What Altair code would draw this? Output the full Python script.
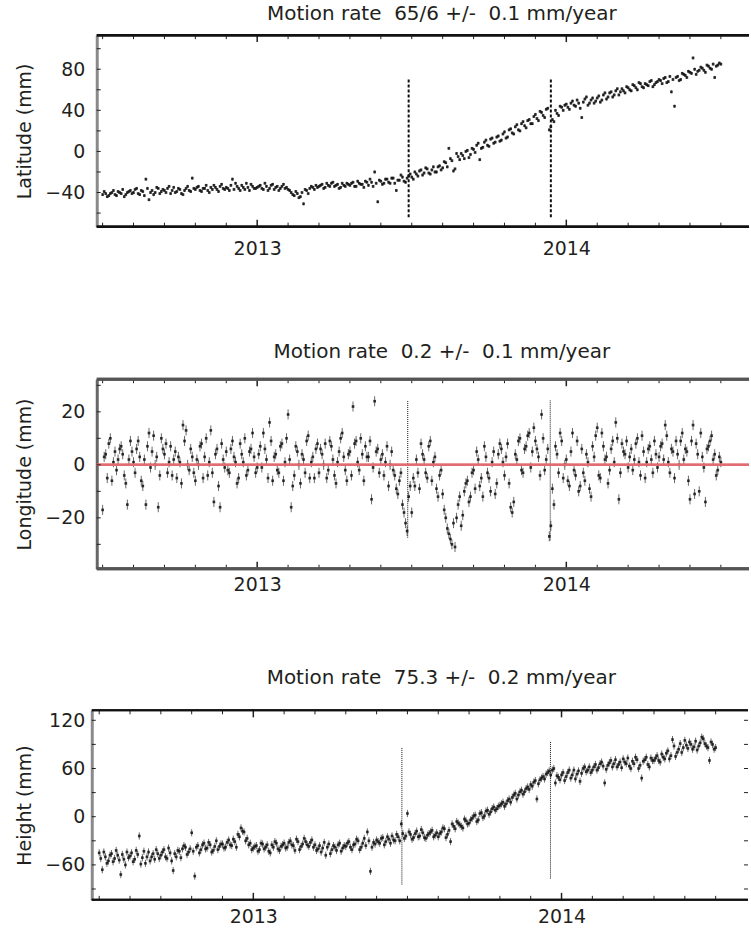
import altair as alt
import numpy as np
import pandas as pd

# GNSS daily solutions: the main samples every 0.01 year from 2012.50,
# and the in-between samples at the half steps (2012.505, 2012.515, ...)
T0, DT = 2012.50, 0.01

latitude = [
    -42, -41, -43, -40, -42, -39, -41, -44, -40, -38,
    -40, -36, -42, -39, -27, -47, -38, -40, -36, -39,
    -38, -36, -41, -35, -39, -37, -42, -36, -38, -26,
    -37, -34, -39, -36, -38, -35, -33, -37, -34, -36,
    -35, -38, -27, -31, -36, -33, -37, -35, -32, -36,
    -35, -33, -37, -34, -36, -32, -35, -38, -34, -36,
    -37, -40, -43, -41, -44, -51, -38, -36, -35, -33,
    -34, -32, -35, -33, -31, -34, -32, -35, -33, -31,
    -33, -30, -34, -31, -32, -29, -33, -30, -20, -49,
    -29, -31, -27, -31, -26, -38, -28, -25, -30, -24,
    -25, -20, -24, -18, -21, -17, -22, -15, -20, -14,
    -16, -11, 3, -9, -17, -5, -2, -7, 1, -3,
    2, 6, -8, 4, 11, 5, 13, 9, 15, 11,
    19, 14, 22, 17, 26, 20, 29, 23, 31, 27,
    36, 30, 38, 33, 42, 24, 29, 37, 44, 40,
    46, 41, 49, 44, 47, 33, 51, 45, 50, 47,
    52, 48, 55, 51, 57, 53, 59, 55, 61, 57,
    62, 59, 64, 60, 66, 62, 65, 68, 63, 67,
    70, 66, 72, 68, 58, 44, 73, 70, 75, 72,
    77, 91, 75, 79, 81, 77, 83, 80, 72, 84,
    85,
]
latitude_mid = [
    -39, -44, -41, -38, -43, -40, -37, -42, -39, -41,
    -37, -41, -38, -43, -36, -40, -42, -35, -41, -37,
    -40, -34, -38, -40, -36, -41, -38, -34, -39, -36,
    -35, -38, -36, -33, -40, -37, -35, -39, -32, -37,
    -36, -33, -37, -34, -38, -35, -31, -38, -34, -36,
    -34, -36, -31, -38, -33, -37, -34, -36, -32, -35,
    -38, -42, -39, -45, -40, -37, -41, -34, -37, -35,
    -33, -36, -31, -34, -30, -33, -36, -31, -34, -32,
    -31, -34, -29, -32, -35, -30, -27, -34, -31, -28,
    -32, -27, -30, -26, -31, -28, -23, -29, -26, -22,
    -27, -22, -19, -23, -16, -21, -18, -20, -15, -18,
    -10, -15, -7, -19, -2, -8, -4, 0, -6, 3,
    -1, 8, 3, 9, 6, 12, 8, 14, 10, 17,
    13, 21, 18, 24, 21, 27, 25, 30, 27, 34,
    32, 39, 35, 41, 21, 31, 40, 35, 43, 45,
    43, 47, 45, 50, 42, 48, 53, 47, 52, 49,
    54, 50, 57, 53, 58, 55, 61, 58, 59, 63,
    60, 65, 62, 67, 63, 66, 64, 69, 65, 68,
    69, 71, 67, 73, 70, 72, 69, 76, 74, 78,
    76, 80, 78, 82, 79, 84, 81, 85, 83, 86,
]

longitude = [
    -17, 4, 8, -6, 5, 2, 7, -4, -15, 9,
    1, 6, 3, -8, -15, 12, 5, 0, -16, 10,
    4, -3, 7, 2, -5, 1, 15, 13, -2, 3,
    -6, 0, 8, 3, -4, 13, -14, 6, -16, 2,
    5, -3, 9, 1, -5, 4, 10, -2, 6, 3,
    -1, 7, 12, 2, 16, -6, 4, -3, 8, 1,
    19, -16, -4, 5, -7, 2, 9, -5, 3, 6,
    -3, 4, 8, -2, 7, -4, 1, 10, 3, -6,
    5, 22, 9, -2, 4, 7, 3, -13, 24, 6,
    2, -4, 7, 0, -2, -9, -6, -15, -22, -12,
    -18, -8, -3, 8, 2, -5, 9, 1, -9, -4,
    -11, -20, -26, -30, -31, -15, -23, -10, -6, -12,
    -2, 5, -8, -12, 3, -5, 1, -11, 4, 6,
    -4, 8, -16, -14, 2, 10, -3, 7, 12, 5,
    9, 3, 19, -2, 6, -23, -15, 4, 12, -5,
    2, -8, 12, -4, -10, 6, -6, 1, -12, 3,
    14, -5, 7, 3, -2, 9, 16, -13, 8, 4,
    -1, 6, 2, 10, -4, 5, 1, 7, -3, 4,
    3, 8, 15, 1, 6, -5, 4, 9, 2, 5,
    -13, 15, 8, -10, 3, -14, 7, 11, 4, -2,
    1,
]
longitude_mid = [
    3, -5, 10, 1, -2, 6, 4, -7, 2, 5,
    -3, 9, -6, 2, 7, -1, 11, 3, -4, 6,
    8, 1, -4, 5, 3, -7, 9, 0, 6, -3,
    2, 7, -5, 10, 1, -3, 4, -8, 8, -1,
    -2, 6, 3, -7, 8, 1, -4, 5, 12, -3,
    4, -1, 6, -5, 9, 3, -2, 7, -6, 10,
    2, -8, 7, 0, 4, -3, 11, 1, -5, 8,
    6, 0, -5, 9, 2, -7, 5, 12, -2, 4,
    -4, 8, 1, 10, -6, 3, 9, -1, 5, -3,
    4, 1, -8, 5, -4, -11, -3, -18, -25, -8,
    -5, 2, -9, 4, -3, 7, -6, 3, -12, -2,
    -17, -24, -28, -22, -20, -12, -19, -7, -14, -3,
    -9, 2, -5, 7, -3, -10, 5, -7, 8, 1,
    3, -7, -18, 4, 9, -2, 6, 11, -1, 14,
    6, -4, 10, 2, -27, -9, 7, -3, 9, 0,
    -6, 5, -2, 9, -8, -3, 4, -9, 7, 11,
    -4, 12, 2, -7, 6, 1, 10, -3, 5, 9,
    3, -2, 8, 1, 11, -5, 6, 2, 9, -1,
    7, 2, 11, -3, 5, 9, 0, 12, 6, -6,
    9, -11, 4, 12, -1, 6, 9, 2, -4, 3,
]

height = [
    -45, -66, -50, -55, -46, -52, -48, -72, -53, -44,
    -49, -56, -42, -24, -51, -58, -44, -50, -53, -46,
    -48, -41, -52, -45, -67, -50, -43, -40, -38, -44,
    -20, -74, -36, -41, -33, -39, -35, -42, -30, -37,
    -34, -38, -29, -36, -31, -22, -14, -19, -27, -33,
    -39, -36, -41, -34, -38, -43, -35, -31, -40, -37,
    -33, -38, -30, -36, -28, -41, -34, -31, -37, -29,
    -35, -40, -44, -32, -38, -46, -36, -42, -33, -39,
    -37, -31, -41, -34, -30, -38, -27, -19, -68, -32,
    -29, -33, -26, -31, -28, -24, -30, -25, -9, -27,
    4, -22, -26, -18, -24, -20, -27, -21, -17, -23,
    -25, -19, -15, -22, -31, -12, -6, -10, -14, -5,
    -8, -2, 2, -4, 5, 1, 8, 6, 12, 10,
    14, 18, 16, 22, 24, 29, 27, 33, 31, 37,
    40, 43, 22, 46, 50, 53, 57, 58, 42, 49,
    52, 45, 55, 48, 58, 53, 44, 60, 56, 62,
    58, 65, 61, 68, 42, 64, 70, 66, 62, 68,
    72, 66, 63, 69, 74, 60, 48, 71, 65, 73,
    70, 76, 68, 74, 79, 72, 96, 75, 84, 80,
    95, 85, 90, 87, 83, 92, 97, 88, 70, 90,
    86,
]
height_mid = [
    -52, -44, -58, -48, -56, -42, -54, -47, -60, -51,
    -45, -53, -47, -59, -43, -50, -55, -46, -41, -52,
    -44, -50, -39, -55, -46, -42, -51, -36, -47, -40,
    -43, -38, -45, -35, -40, -32, -44, -37, -41, -34,
    -39, -32, -35, -28, -38, -25, -18, -30, -35, -41,
    -37, -43, -33, -40, -35, -45, -38, -33, -42, -35,
    -39, -32, -35, -42, -31, -37, -27, -35, -32, -38,
    -42, -36, -39, -48, -34, -41, -38, -35, -43, -36,
    -33, -38, -35, -28, -41, -33, -36, -30, -38, -34,
    -31, -27, -35, -25, -33, -29, -22, -30, -21, -24,
    -19, -28, -21, -25, -16, -26, -23, -19, -25, -20,
    -21, -14, -26, -17, -9, -15, -8, -12, -3, -9,
    -4, 1, -6, 4, -1, 7, 3, 10, 8, 13,
    16, 13, 20, 18, 27, 22, 31, 28, 35, 34,
    38, 45, 41, 48, 47, 55, 52, 60, 51, 46,
    55, 50, 58, 52, 47, 57, 54, 62, 58, 55,
    62, 58, 66, 63, 59, 67, 62, 71, 65, 61,
    68, 73, 60, 66, 71, 64, 69, 74, 62, 70,
    73, 70, 78, 72, 82, 76, 88, 80, 91, 86,
    89, 93, 84, 94, 88, 99, 91, 86, 93, 84,
]

# formal 1-sigma uncertainty of each component (mm)
sigma = {"lat": 1.5, "lon": 1.9, "hgt": 4.5}

# epochs of the two events marked on every panel, with the extent of each marker (mm)
event_epochs = {"lat": [2013.49, 2013.95], "lon": [2013.487, 2013.948], "hgt": [2013.482, 2013.964]}
event_low = {"lat": [-64, -64], "lon": [-27.5, -28.5], "hgt": [-84.5, -77]}
event_high = {"lat": [70, 70], "lon": [24.4, 24.4], "hgt": [85.7, 94.4]}

titles = {
    "lat": "Motion rate\u00a0 65/6 +/-\u00a0 0.1 mm/year",
    "lon": "Motion rate\u00a0 0.2 +/-\u00a0 0.1 mm/year",
    "hgt": "Motion rate\u00a0 75.3 +/-\u00a0 0.2 mm/year",
}
ytitles = {"lat": "Latitude (mm)", "lon": "Longitude (mm)", "hgt": "Height (mm)"}
ylabels = {"lat": [-40, 0, 40, 80], "lon": [-20, 0, 20], "hgt": [-60, 0, 60, 120]}
ysteps = {"lat": [-60, -40, -20, 0, 20, 40, 60, 80, 100],
          "lon": [-30, -20, -10, 0, 10, 20, 30],
          "hgt": [-90, -60, -30, 0, 30, 60, 90, 120]}
year_labels = [2013, 2014]
month_ticks = [round(2012.5 + 0.1 * k, 1) for k in range(21)]

FONT = "DejaVu Sans"
INK = "#231f20"

epochs = np.round(T0 + DT * np.arange(len(latitude)), 3)
epochs_mid = np.round(T0 + DT / 2 + DT * np.arange(len(latitude_mid)), 3)


def panel(key, values, values_mid, ydom, xdom, width, hgt_px, title_offset, xlab_pad, ylab_pad,
          yextent, frame_color, frame_width, left_color, dash, dash_width,
          zero_line=False, right_ticks=False, left_shift=0):
    df = pd.DataFrame({"t": np.concatenate([epochs, epochs_mid]),
                       "v": list(values) + list(values_mid)})
    df["lo"] = df["v"] - sigma[key]
    df["hi"] = df["v"] + sigma[key]

    xscale = alt.Scale(domain=xdom, nice=False, zero=False)
    yscale = alt.Scale(domain=ydom, nice=False, zero=False)
    xaxis = alt.Axis(values=year_labels, format="d", title=None, ticks=False, tickSize=0,
                     grid=False, domain=False,
                     labelFont=FONT, labelFontSize=19, labelColor=INK, labelPadding=xlab_pad)
    yaxis = alt.Axis(values=ylabels[key], title=ytitles[key], titleFont=FONT, titleFontSize=19,
                     titleFontWeight="normal", titleColor=INK, titlePadding=14,
                     labelFont=FONT, labelFontSize=19, labelColor=INK, labelPadding=ylab_pad,
                     ticks=False, tickSize=0, grid=False, domainColor=left_color, domainWidth=3,
                     minExtent=yextent, maxExtent=yextent, offset=left_shift)

    def X(f):
        return alt.X(f"{f}:Q", scale=xscale, axis=xaxis)

    def Y(f):
        return alt.Y(f"{f}:Q", scale=yscale, axis=yaxis)

    base = alt.Chart(df)
    bars = base.mark_rule(color="#444", strokeWidth=1, opacity=0.8).encode(x=X("t"), y=Y("lo"), y2="hi:Q")
    dots = base.mark_square(size=7, color="#111", opacity=0.85).encode(x=X("t"), y=Y("v"))

    ev = pd.DataFrame({"t": event_epochs[key], "lo": event_low[key], "hi": event_high[key]})
    events = alt.Chart(ev).mark_rule(color="#111", strokeWidth=dash_width, strokeDash=dash).encode(
        x=X("t"), y=Y("lo"), y2="hi:Q")

    layers = [bars, dots, events]

    if zero_line:
        layers.append(alt.Chart(ev).mark_rule(color="#e06a70", strokeWidth=2.5, opacity=0.85).encode(
            y=alt.datum(0, scale=yscale), x=alt.value(-left_shift), x2=alt.value(width)))

    minor = pd.DataFrame({"xt": [m for m in month_ticks if m not in year_labels]})
    major = pd.DataFrame({"xt": year_labels})
    ytk = pd.DataFrame({"yt": ysteps[key]})

    x0 = -left_shift
    tick_style = dict(color=INK, strokeWidth=1)
    layers += [
        alt.Chart(minor).mark_rule(**tick_style).encode(x=X("xt"), y=alt.value(hgt_px), y2=alt.value(hgt_px - 4)),
        alt.Chart(minor).mark_rule(**tick_style).encode(x=X("xt"), y=alt.value(0), y2=alt.value(4)),
        alt.Chart(major).mark_rule(color=INK, strokeWidth=1.5).encode(x=X("xt"), y=alt.value(hgt_px + 1), y2=alt.value(hgt_px - 7)),
        alt.Chart(major).mark_rule(color=INK, strokeWidth=1.5).encode(x=X("xt"), y=alt.value(-1), y2=alt.value(7)),
        alt.Chart(ytk).mark_rule(**tick_style).encode(y=Y("yt"), x=alt.value(x0), x2=alt.value(x0 + 4)),
    ]
    if right_ticks:
        layers.append(alt.Chart(ytk).mark_rule(**tick_style).encode(
            y=Y("yt"), x=alt.value(width), x2=alt.value(width - 4)))

    # top and bottom edges of the frame
    for edge in (0, hgt_px):
        layers.append(alt.Chart(major).mark_rule(color=frame_color, strokeWidth=frame_width).encode(
            x=alt.value(x0), x2=alt.value(width), y=alt.value(edge)))

    return alt.layer(*layers).properties(
        width=width, height=hgt_px,
        title=alt.TitleParams(titles[key], font=FONT, fontSize=20, fontWeight="normal", color=INK,
                              offset=title_offset, dx=19, anchor="middle", frame="group"),
    )


p_lat = panel("lat", latitude, latitude_mid, [-73.2, 113.2], [2012.481, 2014.591], 654, 192,
              title_offset=9, xlab_pad=13, ylab_pad=12, yextent=48,
              frame_color="#111", frame_width=2.5, left_color="#8a8a8a", dash=[3, 2], dash_width=2)
p_lon = panel("lon", longitude, longitude_mid, [-39.2, 32.3], [2012.481, 2014.591], 654, 190,
              title_offset=16, xlab_pad=7, ylab_pad=12, yextent=48,
              frame_color="#555", frame_width=3, left_color="#666", dash=[1, 1], dash_width=1,
              zero_line=True)
p_hgt = panel("hgt", height, height_mid, [-103.5, 132.4], [2012.492, 2014.605], 653, 190,
              title_offset=21, xlab_pad=8, ylab_pad=7, yextent=43,
              frame_color="#111", frame_width=2, left_color="#8a8a8a", dash=[1, 1], dash_width=1,
              right_ticks=True, left_shift=5)

top_pair = alt.vconcat(p_lat, p_lon, spacing=83)
chart = alt.vconcat(top_pair, p_hgt, spacing=73).properties(
    padding={"left": 16, "top": 3, "right": 0, "bottom": 0}
).configure_view(stroke=None)

chart.save("out.html", embed_options={"renderer": "svg", "actions": False})
